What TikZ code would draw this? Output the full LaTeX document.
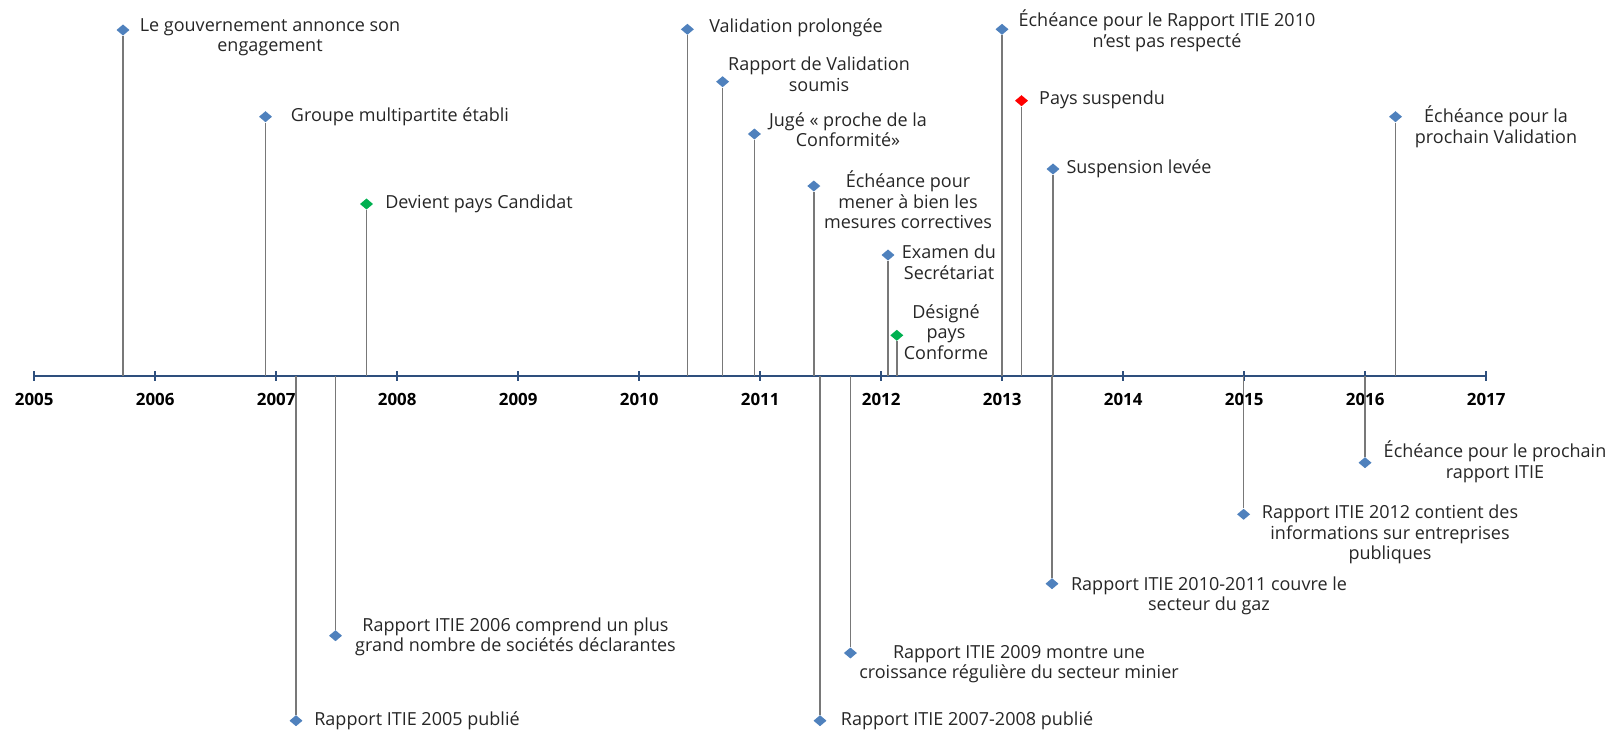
\documentclass[tikz,border=0pt]{standalone}
\usepackage{fontspec}
\setmainfont{Open Sans}
\usetikzlibrary{shapes.geometric, positioning}
\definecolor{axisblue}{RGB}{46, 79, 125}
\definecolor{markblue}{RGB}{79, 129, 189}
\definecolor{markgreen}{RGB}{0, 176, 80}
\definecolor{markred}{RGB}{255, 0, 0}
\definecolor{stemgray}{RGB}{120, 120, 120}
\definecolor{textgray}{RGB}{38, 38, 38}

\begin{document}
\begin{tikzpicture}[
    x=0.025cm, y=-0.025cm,
    event/.style={diamond, fill=markblue, inner sep=0pt, minimum width=0.33cm, minimum height=0.28cm},
    candidat/.style={event, fill=markgreen},
    suspendu/.style={event, fill=markred},
    stem/.style={stemgray, line width=1.1pt},
    axisline/.style={axisblue, line width=2.1pt},
    label/.style={font=\fontsize{12.8}{14.6}\selectfont, text=textgray, align=center, inner sep=0pt},
    year/.style={font=\fontsize{12}{14}\selectfont\bfseries, inner sep=0pt}
]
    \useasboundingbox (0,0) rectangle (1612,731);

    % Axis with ticks and years
    \foreach \yr [count=\i from 0] in {2005,...,2017} {
        \coordinate (t\yr) at (34.2+121*\i, 376);
        \node[year] (y\yr) at (34.2+121*\i, 399) {\yr};
    }
    \draw[axisline] (t2005) -- (t2017);
    \foreach \yr in {2005,...,2017}
        \draw[axisline, line width=1.5pt] ([yshift=0.12cm]t\yr) -- ([yshift=-0.12cm]t\yr);

    % Events above the axis
    \node[event] (gouv) at (123, 30) {};
    \node[event] (groupe) at (265.5, 116.7) {};
    \node[candidat] (devient) at (366.5, 204) {};
    \node[event] (prolong) at (687.4, 29.3) {};
    \node[event] (soumis) at (722.6, 81.7) {};
    \node[event] (juge) at (754.4, 134) {};
    \node[event] (mesures) at (813.8, 186) {};
    \node[event] (examen) at (888, 255) {};
    \node[candidat] (conforme) at (896.8, 335.3) {};
    \node[event] (echeance) at (1002, 29.3) {};
    \node[suspendu] (suspendu) at (1021.5, 100.7) {};
    \node[event] (levee) at (1053, 169) {};
    \node[event] (prochval) at (1395.5, 116.7) {};

    % Events below the axis
    \node[event] (itie05) at (296, 720.7) {};
    \node[event] (itie06) at (335.5, 635.7) {};
    \node[event] (itie0708) at (820, 720.7) {};
    \node[event] (itie09) at (850.4, 653) {};
    \node[event] (itie1011) at (1052, 583.7) {};
    \node[event] (itie12) at (1243.6, 514.3) {};
    \node[event] (prochrap) at (1365, 462.7) {};

    % Stems
    \foreach \ev in {gouv, groupe, devient, prolong, soumis, juge, mesures, examen, conforme, echeance, suspendu, levee, prochval}
        \draw[stem] (\ev) -- (\ev |- t2005);
    \foreach \ev in {itie05, itie06, itie0708, itie09, itie1011, itie12, prochrap}
        \draw[stem] (t2005 -| \ev) -- (\ev);

    % Labels - top
    \node[label] (lgouv) at (270, 37) {Le gouvernement annonce son\\engagement};
    \node[label] (lgroupe) at (400, 117) {Groupe multipartite établi};
    \node[label] (ldevient) at (479, 204) {Devient pays Candidat};
    \node[label] (lprolong) at (796, 27.3) {Validation prolongée};
    \node[label] (lsoumis) at (819, 74.5) {Rapport de Validation\\soumis};
    \node[label] (ljuge) at (848, 129.5) {Jugé « proche de la\\Conformité»};
    \node[label] (lmesures) at (908, 200) {Échéance pour\\mener à bien les\\mesures correctives};
    \node[label] (lexamen) at (949, 262) {Examen du\\Secrétariat};
    \node[label] (lconforme) at (946, 332) {Désigné\\pays\\Conforme};
    \node[label] (lecheance) at (1167, 31) {Échéance pour le Rapport ITIE 2010\\n'est pas respecté};
    \node[label] (lsuspendu) at (1102, 100) {Pays suspendu};
    \node[label] (llevee) at (1139, 169) {Suspension levée};
    \node[label] (lprochval) at (1496, 126.7) {Échéance pour la\\prochain Validation};

    % Labels - bottom
    \node[label] (litie05) at (417, 720.7) {Rapport ITIE 2005 publié};
    \node[label] (litie06) at (515.5, 636.7) {Rapport ITIE 2006 comprend un plus\\grand nombre de sociétés déclarantes};
    \node[label] (litie0708) at (967, 720.7) {Rapport ITIE 2007-2008 publié};
    \node[label] (litie09) at (1019, 664) {Rapport ITIE 2009 montre une\\croissance régulière du secteur minier};
    \node[label] (litie1011) at (1209, 596) {Rapport ITIE 2010-2011 couvre le\\secteur du gaz};
    \node[label] (litie12) at (1390, 534.4) {Rapport ITIE 2012 contient des\\informations sur entreprises\\publiques};
    \node[label] (lprochrap) at (1495, 462) {Échéance pour le prochain\\rapport ITIE};
\end{tikzpicture}
\end{document}
